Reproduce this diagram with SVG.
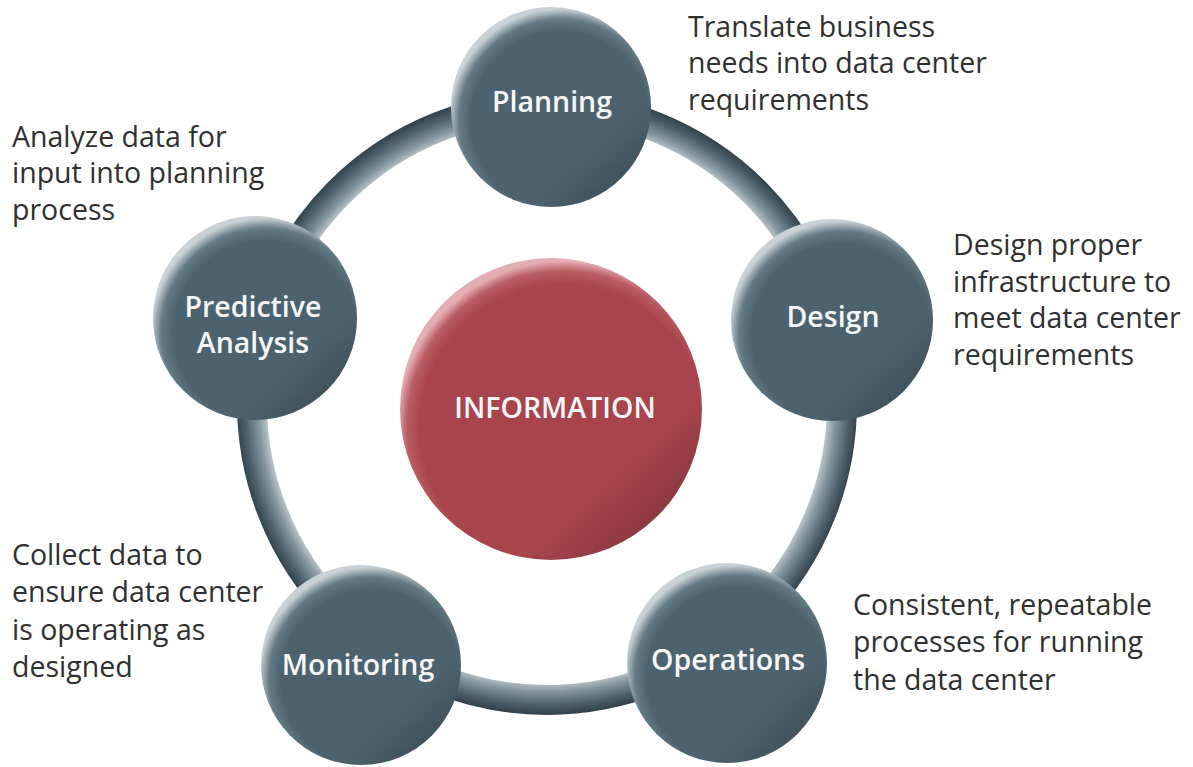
<svg xmlns="http://www.w3.org/2000/svg" width="1193" height="767" viewBox="0 0 1193 767">
  <defs>
    <radialGradient id="ringGrad" gradientUnits="userSpaceOnUse" cx="547" cy="403" r="312">
      <stop offset="0.89" stop-color="#c9d2d6"/>
      <stop offset="0.925" stop-color="#8497a0"/>
      <stop offset="0.965" stop-color="#4f6470"/>
      <stop offset="1" stop-color="#2f3f48"/>
    </radialGradient>
    <radialGradient id="nodeGrad" cx="0.55" cy="0.57" r="0.56" fx="0.55" fy="0.57">
      <stop offset="0" stop-color="#4c636f"/>
      <stop offset="0.80" stop-color="#4c636f"/>
      <stop offset="0.91" stop-color="#647a85"/>
      <stop offset="1" stop-color="#c8d1d5"/>
    </radialGradient>
    <radialGradient id="redGrad" cx="0.54" cy="0.56" r="0.55" fx="0.54" fy="0.56">
      <stop offset="0" stop-color="#a8444c"/>
      <stop offset="0.86" stop-color="#a8444c"/>
      <stop offset="0.94" stop-color="#b95d64"/>
      <stop offset="1" stop-color="#e3aeb1"/>
    </radialGradient>
    <linearGradient id="edgeShade" x1="0.2" y1="0.2" x2="0.85" y2="0.9">
      <stop offset="0" stop-color="#000" stop-opacity="0"/>
      <stop offset="0.75" stop-color="#000" stop-opacity="0"/>
      <stop offset="1" stop-color="#000" stop-opacity="0.18"/>
    </linearGradient>
  </defs>
  <style>
    .node { fill: url(#nodeGrad); }
    .shade { fill: url(#edgeShade); }
    .label { font-family: "Open Sans", "Noto Sans", "Liberation Sans", sans-serif; font-weight: 600; font-size: 28.5px; fill: #f4f6f7; text-anchor: middle; }
    .desc { font-family: "Open Sans", "Noto Sans", "Liberation Sans", sans-serif; font-weight: 400; font-size: 28.5px; fill: #303030; }
  </style>
  <rect width="1193" height="767" fill="#ffffff"/>

  <g id="connectors">
    <ellipse cx="547" cy="403" rx="295" ry="297" fill="none" stroke="url(#ringGrad)" stroke-width="30"/>
  </g>

  <g id="node-information">
    <circle cx="551" cy="409" r="151" fill="url(#redGrad)"/>
    <circle cx="551" cy="409" r="151" class="shade"/>
    <text x="555" y="418" class="label">INFORMATION</text>
  </g>

  <g id="node-planning">
    <circle cx="551" cy="107" r="100" class="node"/>
    <circle cx="551" cy="107" r="100" class="shade"/>
    <text x="552" y="112" class="label">Planning</text>
  </g>

  <g id="node-design">
    <circle cx="832" cy="320" r="101" class="node"/>
    <circle cx="832" cy="320" r="101" class="shade"/>
    <text x="833" y="327" class="label">Design</text>
  </g>

  <g id="node-operations">
    <circle cx="727" cy="663" r="100" class="node"/>
    <circle cx="727" cy="663" r="100" class="shade"/>
    <text x="728" y="670" class="label">Operations</text>
  </g>

  <g id="node-monitoring">
    <circle cx="361" cy="665" r="100" class="node"/>
    <circle cx="361" cy="665" r="100" class="shade"/>
    <text x="358" y="675" class="label">Monitoring</text>
  </g>

  <g id="node-predictive">
    <circle cx="255" cy="318" r="102" class="node"/>
    <circle cx="255" cy="318" r="102" class="shade"/>
    <text x="253" y="317" class="label">Predictive</text>
    <text x="253" y="353" class="label">Analysis</text>
  </g>

  <g id="desc-planning">
    <text class="desc" x="688" y="37">Translate business</text>
    <text class="desc" x="688" y="73">needs into data center</text>
    <text class="desc" x="688" y="110">requirements</text>
  </g>

  <g id="desc-predictive">
    <text class="desc" x="12" y="147">Analyze data for</text>
    <text class="desc" x="12" y="183">input into planning</text>
    <text class="desc" x="12" y="220">process</text>
  </g>

  <g id="desc-design">
    <text class="desc" x="953" y="255">Design proper</text>
    <text class="desc" x="953" y="292">infrastructure to</text>
    <text class="desc" x="953" y="328">meet data center</text>
    <text class="desc" x="953" y="365">requirements</text>
  </g>

  <g id="desc-monitoring">
    <text class="desc" x="12" y="565">Collect data to</text>
    <text class="desc" x="12" y="602">ensure data center</text>
    <text class="desc" x="12" y="640">is operating as</text>
    <text class="desc" x="12" y="677">designed</text>
  </g>

  <g id="desc-operations">
    <text class="desc" x="853" y="615">Consistent, repeatable</text>
    <text class="desc" x="853" y="652">processes for running</text>
    <text class="desc" x="853" y="690">the data center</text>
  </g>
</svg>
